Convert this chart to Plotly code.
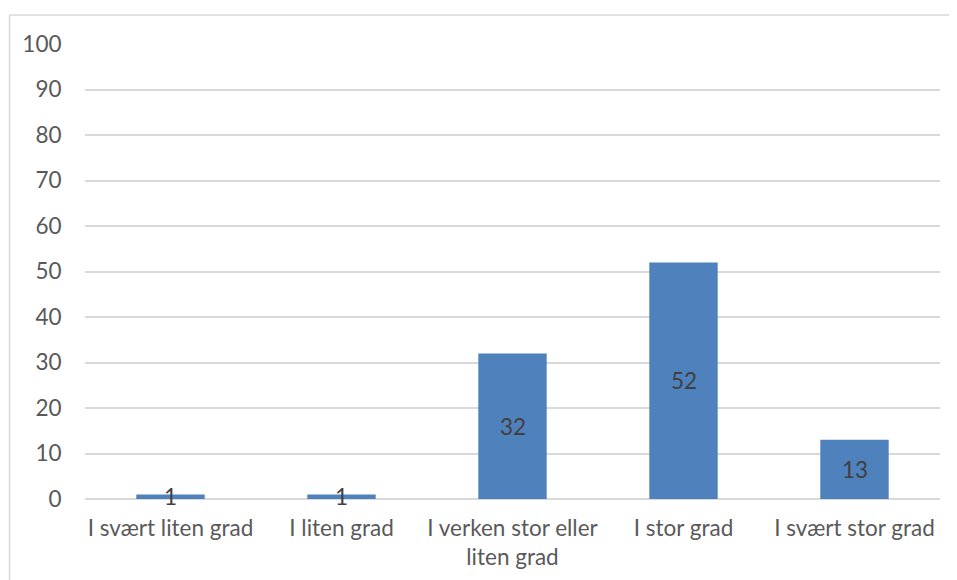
import plotly.graph_objects as go

categories = ["I svært liten grad", "I liten grad", "I verken stor eller<br>liten grad", "I stor grad", "I svært stor grad"]
values = [1, 1, 32, 52, 13]
y_ticks = [0, 10, 20, 30, 40, 50, 60, 70, 80, 90, 100]

FONT = "Lato, 'Open Sans', sans-serif"
FS = 22.5

fig = go.Figure()
fig.add_trace(go.Bar(
    x=categories, y=values,
    marker=dict(color="#4F81BD", line=dict(width=0)),
    width=0.4,
    hoverinfo="skip",
))

for c, v in zip(categories, values):
    fig.add_annotation(x=c, y=v / 2, text=str(v), showarrow=False,
                       font=dict(family=FONT, size=FS, color="#404040"),
                       xanchor="center", yanchor="middle")

# page body has an 8px margin, so figure coords are offset by 8px
OFF = 8
W, H = 957, 580
L, R, T, B = 85 - OFF, W - 940 + OFF, 44 - OFF, H - 499 + OFF
pw, ph = W - L - R, H - T - B
bx0 = (9.5 - OFF - L) / pw
bx1 = (W + 40 - L) / pw
by0 = (H - B - (H + 40)) / ph
by1 = (H - B - (15 - OFF)) / ph
border = dict(color="#D9D9D9", width=1.5)
# outer chart border: top and left edges (others fall outside the picture)
fig.add_shape(type="line", xref="paper", yref="paper", x0=bx0, x1=bx1, y0=by1, y1=by1, line=border, layer="below")
fig.add_shape(type="line", xref="paper", yref="paper", x0=bx0, x1=bx0, y0=by0, y1=by1, line=border, layer="below")

fig.update_layout(
    width=W, height=H,
    margin=dict(l=L, r=R, t=T, b=B),
    paper_bgcolor="white", plot_bgcolor="white",
    showlegend=False,
    font=dict(family=FONT, size=FS, color="#595959"),
    xaxis=dict(showgrid=False, showline=False, ticks="outside", ticklen=9, tickcolor="rgba(0,0,0,0)",
               tickfont=dict(size=FS, color="#595959"), fixedrange=True),
    yaxis=dict(range=[0, 100], tickvals=y_ticks, showgrid=True, gridcolor="#D9D9D9", gridwidth=1.5,
               zeroline=True, zerolinecolor="#D9D9D9", zerolinewidth=1.5,
               showline=False, ticks="outside", ticklen=18, tickcolor="rgba(0,0,0,0)",
               tickfont=dict(size=FS, color="#595959"), fixedrange=True),
)

fig.write_html("out.html")
